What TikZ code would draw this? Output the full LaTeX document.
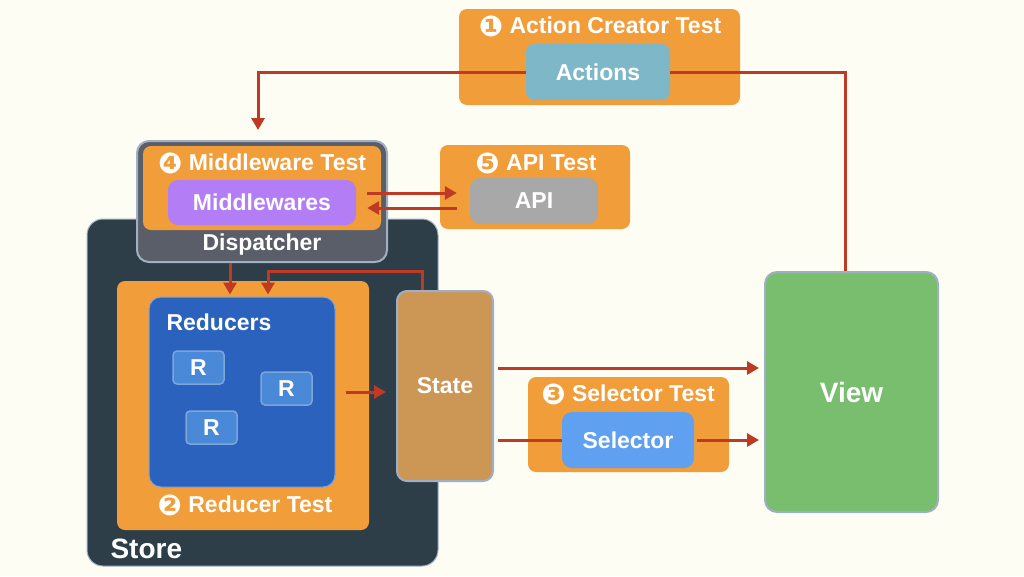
\documentclass[tikz,border=0pt]{standalone}
\usepackage{xcolor}
\usepackage{fontspec}
\setmainfont{Liberation Sans}
\newfontfamily\numfont[Scale=1.25]{DejaVu Sans}
\newcommand{\stepnum}[1]{\raisebox{-2.5pt}{\numfont #1}}
\usepackage{tikz}
\usetikzlibrary{calc}
\usetikzlibrary{arrows.meta}
\usetikzlibrary{positioning}

\definecolor{bgcream}{RGB}{253,253,244}
\definecolor{testorange}{RGB}{241,157,58}
\definecolor{flowred}{RGB}{190,58,36}
\definecolor{storedark}{RGB}{46,62,72}
\definecolor{dispgray}{RGB}{90,94,104}
\definecolor{edgeblue}{RGB}{160,176,196}
\definecolor{mwpurple}{RGB}{178,125,245}
\definecolor{apigray}{RGB}{168,168,168}
\definecolor{actteal}{RGB}{126,184,200}
\definecolor{redblue}{RGB}{43,98,190}
\definecolor{rblue}{RGB}{74,136,216}
\definecolor{rborder}{RGB}{125,165,215}
\definecolor{statetan}{RGB}{204,150,85}
\definecolor{selblue}{RGB}{95,160,240}
\definecolor{viewgreen}{RGB}{120,190,110}

\tikzset{
 box/.style={rectangle, rounded corners=8pt, inner sep=0pt},
 testbox/.style={box, fill=testorange},
 boxtext/.style={text=white, font=\bfseries\fontsize{23}{27}\selectfont},
 flow/.style={-{Triangle[length=12pt, width=13pt]}, line width=3pt, draw=flowred},
 flowline/.style={line width=3pt, draw=flowred},
}

\begin{document}
\begin{tikzpicture}[x=1pt, y=-1pt]
 \fill [bgcream] (0, 0) rectangle (1024, 576);
 \useasboundingbox (0, 0) rectangle (1024, 576);

 % action creator
 \node [testbox, minimum width=281pt, minimum height=96pt] (acttest) at (599.5, 57) {};
 \node [boxtext] (acttitle) at (600, 26) {\stepnum{❶} Action Creator Test};
 \node [box, fill=actteal, minimum width=144pt, minimum height=56pt, boxtext] (actions) at (598, 72) {Actions};

 % store
 \node [box, rounded corners=16pt, fill=storedark, draw=edgeblue, line width=1pt, minimum width=351pt, minimum height=347pt] (store) at (262.5, 392.5) {};
 \node [boxtext, font=\bfseries\fontsize{28}{32}\selectfont, anchor=west] (storetitle) at (107, 549) {Store};

 % dispatcher + middleware
 \node [box, rounded corners=12pt, fill=dispgray, draw=edgeblue, line width=2pt, minimum width=250pt, minimum height=121pt] (disp) at (262, 201.5) {};
 \node [boxtext] (disptitle) at (262, 245) {Dispatcher};
 \node [testbox, minimum width=238pt, minimum height=84pt] (mwtest) at (262, 188) {};
 \node [boxtext] (mwtitle) at (262, 163) {\stepnum{❹} Middleware Test};
 \node [box, rounded corners=10pt, fill=mwpurple, minimum width=188pt, minimum height=45pt, boxtext] (mw) at (262, 202.5) {Middlewares};

 % api
 \node [testbox, minimum width=190pt, minimum height=84pt] (apitest) at (535, 187) {};
 \node [boxtext] (apititle) at (536, 163) {\stepnum{❺} API Test};
 \node [box, rounded corners=10pt, fill=apigray, minimum width=128pt, minimum height=46pt, boxtext] (api) at (534, 201) {API};

 % reducers
 \node [testbox, minimum width=252pt, minimum height=249pt] (redtest) at (243, 405.5) {};
 \node [boxtext] (redtitle) at (245, 505) {\stepnum{❷} Reducer Test};
 \node [box, rounded corners=12pt, fill=redblue, draw=rborder, line width=1pt, minimum width=186pt, minimum height=190pt] (reducers) at (242, 392) {};
 \node [boxtext, anchor=west] (redlabel) at (163, 322) {Reducers};
 \node [box, rounded corners=4pt, fill=rblue, draw=rborder, line width=1.5pt, minimum width=51pt, minimum height=33pt, boxtext] (ra) at (198.5, 367.5) {R};
 \node [box, rounded corners=4pt, fill=rblue, draw=rborder, line width=1.5pt, minimum width=51pt, minimum height=33pt, boxtext] (rb) at (286.5, 388.5) {R};
 \node [box, rounded corners=4pt, fill=rblue, draw=rborder, line width=1.5pt, minimum width=51pt, minimum height=33pt, boxtext] (rc) at (211.5, 427.5) {R};

 % state
 \node [box, rounded corners=10pt, fill=statetan, draw=edgeblue, line width=2pt, minimum width=96pt, minimum height=190pt, boxtext] (state) at (445, 386) {State};

 % selector
 \node [testbox, minimum width=201pt, minimum height=95pt] (seltest) at (628.5, 424.5) {};
 \node [boxtext] (seltitle) at (628, 394) {\stepnum{❸} Selector Test};
 \node [box, rounded corners=10pt, fill=selblue, minimum width=132pt, minimum height=56pt, boxtext] (selector) at (628, 440) {Selector};

 % view
 \node [box, rounded corners=12pt, fill=viewgreen, draw=edgeblue, line width=2pt, minimum width=173pt, minimum height=240pt, boxtext, font=\bfseries\fontsize{28}{32}\selectfont] (view) at (851.5, 392) {View};

 % connectors
 \draw [flowline] ([xshift=-6pt]view.north) |- (actions.east);
 \draw [flow] (actions.west) -| ([xshift=-4pt, yshift=10pt]disp.north);
 \draw [flow, shorten <=11pt, shorten >=13pt] ([yshift=9.5pt]mw.east) -- ([yshift=9.5pt]mw.east -| api.west);
 \draw [flow, shorten <=13pt, shorten >=11pt] ([yshift=-5.5pt]mw.east -| api.west) -- ([yshift=-5.5pt]mw.east);
 \draw [flow] ([xshift=-32pt]disp.south) -- ([xshift=-32pt, yshift=2pt]disp.south |- reducers.north);
 \draw [flow] ([xshift=-23pt]state.north) -- ++(0, -19) -| ([xshift=26pt, yshift=2pt]reducers.north);
 \draw [flow, shorten <=10pt, shorten >=10pt] (reducers.east) -- (reducers.east -| state.west);
 \draw [flow, shorten <=4pt, shorten >=5pt] ([yshift=18pt]state.east) -- ([yshift=18pt]state.east -| view.west);
 \draw [flowline, shorten <=4pt] (state.east |- selector.west) -- (selector.west);
 \draw [flow, shorten <=3pt, shorten >=5pt] (selector.east) -- (selector.east -| view.west);
\end{tikzpicture}
\end{document}
